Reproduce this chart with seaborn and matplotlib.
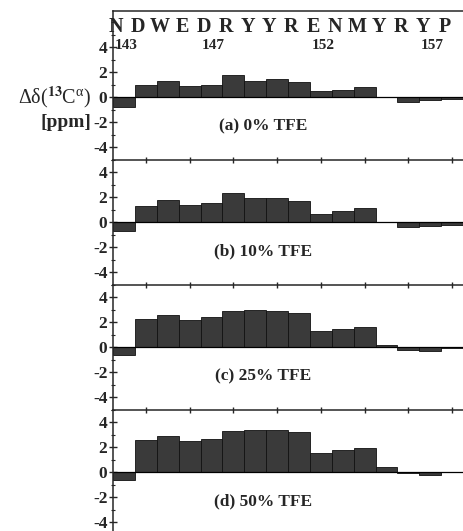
import pandas as pd
import seaborn as sns
import matplotlib.pyplot as plt
from matplotlib.ticker import MultipleLocator

residues = list(range(143, 159))
letters = ["N", "D", "W", "E", "D", "R", "Y", "Y", "R", "E", "N", "M", "Y", "R", "Y", "P"]
number_labels = [143, 147, 152, 157]

# chemical shift deviations (ppm) per residue
tfe_0 = [-0.8, 1.0, 1.3, 0.9, 1.0, 1.8, 1.3, 1.5, 1.2, 0.5, 0.6, 0.8, 0.0, -0.4, -0.2, -0.1]
tfe_10 = [-0.7, 1.3, 1.8, 1.4, 1.55, 2.35, 1.95, 1.95, 1.75, 0.65, 0.9, 1.15, 0.0, -0.4, -0.3, -0.2]
tfe_25 = [-0.6, 2.25, 2.6, 2.2, 2.4, 2.9, 3.0, 2.9, 2.75, 1.3, 1.45, 1.65, 0.2, -0.2, -0.3, -0.05]
tfe_50 = [-0.6, 2.6, 2.9, 2.5, 2.7, 3.3, 3.4, 3.4, 3.2, 1.55, 1.8, 1.95, 0.45, -0.05, -0.2, 0.0]
panel_labels = ["(a) 0% TFE", "(b) 10% TFE", "(c) 25% TFE", "(d) 50% TFE"]

sns.set_style("ticks")
plt.rcParams["font.family"] = ["Liberation Serif", "DejaVu Serif"]
plt.rcParams["font.weight"] = "bold"
plt.rcParams["mathtext.fontset"] = "stix"
plt.rcParams["mathtext.default"] = "regular"

fig = plt.figure(figsize=(4.63, 5.31), dpi=100)

# [bottom, height, ymin, ymax] for each panel, stacked with no gap
boxes = [(0.6987, 0.2806, -5, 6.9),
         (0.4633, 0.2354, -5, 5),
         (0.2279, 0.2354, -5, 5),
         (0.0, 0.2279, -4.68, 5)]

for i, (vals, lab) in enumerate(zip([tfe_0, tfe_10, tfe_25, tfe_50], panel_labels)):
    b, h, ymin, ymax = boxes[i]
    ax = fig.add_axes([0.2441, b, 0.7559, h])
    df = pd.DataFrame({"res": residues, "shift": vals})
    sns.barplot(data=df, x="res", y="shift", native_scale=True, width=1,
                color="#3a3a3a", saturation=1, edgecolor="#111111", linewidth=0.6,
                errorbar=None, ax=ax)
    ax.axhline(0, color="black", lw=0.9)
    ax.set_xlim(142.5, 158.5)
    ax.set_ylim(ymin, ymax)
    ax.set_xlabel("")
    ax.set_ylabel("")
    ax.yaxis.set_minor_locator(MultipleLocator(1))
    ax.set_yticks([4, 2, 0, -2, -4])
    ax.set_yticklabels(["4", "2", "0", "-2", "-4"], fontsize=12.5, fontweight="bold")
    ax.tick_params(axis="y", which="major", direction="inout", length=6, width=1, pad=1)
    ax.tick_params(axis="y", which="minor", direction="inout", length=3, width=0.8)
    for s in ["right", "bottom"]:
        ax.spines[s].set_visible(False)
    ax.spines["left"].set_linewidth(1.1)
    ax.spines["top"].set_linewidth(1.1)
    if i == 0:
        ax.set_xticks([])
        for r, l in zip(residues, letters):
            ax.text(r - 0.35, 5.6, l, ha="center", va="center", fontsize=14.5, fontweight="bold")
        for n in number_labels:
            ax.text(n + 0.1, 4.15, str(n), ha="center", va="center", fontsize=11, fontweight="bold")
    else:
        ax.xaxis.tick_top()
        ax.set_xticks(range(144, 159, 2))
        ax.set_xticklabels([])
        ax.tick_params(axis="x", direction="inout", length=5, width=1)
    ax.text(149.35, -2.3, lab, ha="center", va="center", fontsize=12.5, fontweight="bold")

fig.text(0.197, 0.817, r"Δδ($^{\mathbf{13}}$C$^{\alpha}$)", ha="right", va="center",
         fontsize=14.5, fontweight="normal")
fig.text(0.197, 0.770, "[ppm]", ha="right", va="center", fontsize=14, fontweight="bold")

fig.savefig("out.png", dpi=100)
